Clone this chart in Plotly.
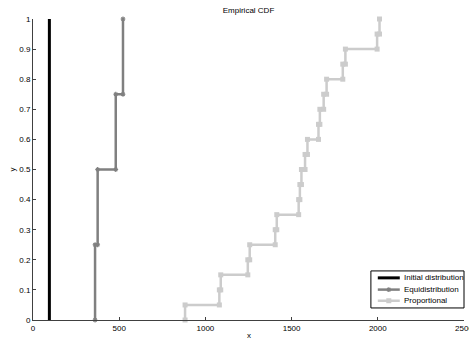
import plotly.graph_objects as go

# ---- data ----
series_names = ["Initial distribution", "Equidistribution", "Proportional"]
initial_vals = [95]
equi_vals = [360, 375, 480, 522]
prop_vals = [882, 1081, 1089, 1246, 1257, 1405, 1414, 1541, 1548, 1557,
             1578, 1592, 1656, 1664, 1686, 1703, 1797, 1812, 1996, 2010]

x_ticks = [0, 500, 1000, 1500, 2000, 2500]
x_tick_labels = ["0", "500", "1000", "1500", "2000", "2500"]
y_ticks = [0, 0.1, 0.2, 0.3, 0.4, 0.5, 0.6, 0.7, 0.8, 0.9, 1]
y_tick_labels = ["0", "0.1", "0.2", "0.3", "0.4", "0.5", "0.6", "0.7", "0.8", "0.9", "1"]


def ecdf_stairs(vals):
    """Corner points of an empirical CDF staircase."""
    v = sorted(vals)
    n = len(v)
    xs, ys = [v[0]], [0.0]
    for i, val in enumerate(v):
        if i > 0:
            xs.append(val)
            ys.append(i / n)
        xs.append(val)
        ys.append((i + 1) / n)
    return xs, ys


FONT = "Liberation Sans, Arial, sans-serif"
AX = "#404040"

styles = [
    dict(mode="lines", line=dict(color="#000000", width=3)),
    dict(mode="lines+markers", line=dict(color="#808080", width=2.5),
         marker=dict(symbol="asterisk-open", size=4, color="#808080",
                     line=dict(color="#808080", width=1.2))),
    dict(mode="lines+markers", line=dict(color="#cccccc", width=2.5),
         marker=dict(symbol="square", size=5, color="#cccccc")),
]

fig = go.Figure()
for vals, name, st in zip([initial_vals, equi_vals, prop_vals], series_names, styles):
    xs, ys = ecdf_stairs(vals)
    fig.add_trace(go.Scatter(x=xs, y=ys, name=name, cliponaxis=False,
                             showlegend=False, **st))

# ---- compact legend (MATLAB style) drawn on an overlay axis in paper units ----
leg_x0, leg_x1, leg_y0, leg_y1 = 0.784, 1.0, 0.04, 0.163
item_y = [0.140, 0.101, 0.064]
sample_x = [0.800, 0.851]
annotations = []
for name, st, yy in zip(series_names, styles, item_y):
    s = dict(st)
    s.pop("mode")
    fig.add_trace(go.Scatter(x=sample_x, y=[yy, yy], mode="lines", line=s["line"],
                             xaxis="x2", yaxis="y2", showlegend=False,
                             hoverinfo="skip", cliponaxis=False))
    if "marker" in s:
        fig.add_trace(go.Scatter(x=[sum(sample_x) / 2], y=[yy], mode="markers",
                                 marker=s["marker"], xaxis="x2", yaxis="y2",
                                 showlegend=False, hoverinfo="skip",
                                 cliponaxis=False))
    annotations.append(dict(text=name, xref="paper", yref="paper", x=0.857, y=yy,
                            showarrow=False, xanchor="left", yanchor="middle",
                            font=dict(size=8, color="#000000")))

annotations += [
    dict(text="x", xref="paper", yref="paper", x=0.5, y=-15 / 300.7,
         showarrow=False, xanchor="center", yanchor="middle", font=dict(size=8)),
    dict(text="y", xref="paper", yref="paper", x=-21 / 431, y=0.5,
         showarrow=False, xanchor="center", yanchor="middle",
         textangle=-90, font=dict(size=8)),
]

fig.update_layout(
    width=469, height=341,
    margin=dict(l=33, r=5, t=19, b=21),
    paper_bgcolor="white", plot_bgcolor="white",
    font=dict(family=FONT, size=8, color="#000000"),
    title=dict(text="Empirical CDF", x=0.5, xref="paper", y=1 - 10 / 341,
               yanchor="middle", font=dict(size=8, color="#000000")),
    showlegend=False,
    xaxis=dict(range=[0, 2500], tickvals=x_ticks, ticktext=x_tick_labels,
               ticks="inside", ticklen=3, tickcolor=AX, showline=True,
               linecolor=AX, linewidth=1, showgrid=False, zeroline=False,
               tickfont=dict(size=8), ticklabeloverflow="allow",
               automargin=False),
    yaxis=dict(range=[0, 1], tickvals=y_ticks, ticktext=y_tick_labels,
               ticks="inside", ticklen=3, tickcolor=AX, showline=True,
               linecolor=AX, linewidth=1, showgrid=False, zeroline=False,
               tickfont=dict(size=8), automargin=False),
    xaxis2=dict(range=[0, 1], overlaying="x", visible=False, fixedrange=True),
    yaxis2=dict(range=[0, 1], overlaying="y", visible=False, fixedrange=True),
    shapes=[dict(type="rect", xref="paper", yref="paper", x0=leg_x0, x1=leg_x1,
                 y0=leg_y0, y1=leg_y1, line=dict(color="#000000", width=1),
                 fillcolor="white", layer="below")],
    annotations=annotations,
)

fig.write_html("out.html", config={"displayModeBar": False},
               post_script="document.body.style.margin='0';")
